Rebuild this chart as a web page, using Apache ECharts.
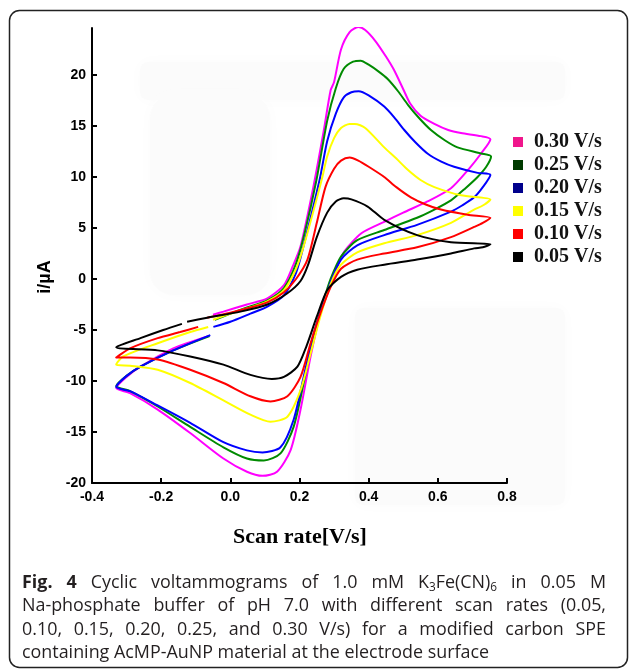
<!DOCTYPE html>
<html><head><meta charset="utf-8">
<script src="https://cdn.jsdelivr.net/npm/echarts@6/dist/echarts.min.js"></script>
<style>html,body{margin:0;padding:0;background:#fff}#c{width:630px;height:670px}</style>
</head><body><div id="c"></div>
<script>
// ---------- DATA ----------
const rates = ['0.30 V/s', '0.25 V/s', '0.20 V/s', '0.15 V/s', '0.10 V/s', '0.05 V/s'];
const xTicks = [-0.4, -0.2, 0.0, 0.2, 0.4, 0.6, 0.8];
const yTicks = [-20, -15, -10, -5, 0, 5, 10, 15, 20];

// [potential V, current µA] along the scan
const cv030 = [[-0.05,-3.5],[-0.02,-3.2],[0.048,-2.5],[0.107,-1.9],[0.155,-0.6],[0.18,1.2],[0.203,3.2],[0.24,9.0],[0.27,14.5],[0.29,18.5],[0.30,19.3],[0.32,22.5],[0.345,24.2],[0.37,24.7],[0.39,24.4],[0.42,23.3],[0.45,21.8],[0.473,20.5],[0.50,18.6],[0.52,17.2],[0.55,16.0],[0.59,15.2],[0.63,14.6],[0.667,14.3],[0.725,14.0],[0.752,13.7],
  [0.725,12.3],[0.69,10.8],[0.638,8.9],[0.57,7.6],[0.50,6.5],[0.445,5.6],[0.38,4.5],[0.33,2.7],[0.30,0.5],[0.275,-2.0],[0.26,-3.4],[0.232,-7.6],[0.203,-12.8],[0.174,-16.8],[0.135,-18.9],[0.093,-19.3],[0.048,-18.9],[-0.02,-17.6],[-0.116,-15.1],[-0.21,-12.8],[-0.29,-11.2],[-0.33,-10.7],
  [-0.30,-9.6],[-0.26,-8.6],[-0.165,-6.8],[-0.064,-5.6]];
const cv025 = [[-0.045,-4.0],[0.0,-3.4],[0.048,-2.8],[0.107,-2.1],[0.155,-0.9],[0.19,1.5],[0.215,4.5],[0.249,9.7],[0.28,15.5],[0.305,18.7],[0.328,20.6],[0.355,21.3],[0.377,21.4],[0.40,21.0],[0.43,20.3],[0.455,19.6],[0.485,18.4],[0.513,17.1],[0.545,15.8],[0.58,14.6],[0.62,13.6],[0.657,12.9],[0.725,12.3],[0.754,12.0],
  [0.74,11.0],[0.715,10.0],[0.68,8.9],[0.638,7.7],[0.59,6.8],[0.54,6.0],[0.445,4.8],[0.367,3.8],[0.32,2.2],[0.29,0.0],[0.27,-2.1],[0.24,-5.7],[0.212,-10.2],[0.183,-14.5],[0.145,-17.1],[0.097,-17.8],[0.048,-17.6],[-0.02,-16.5],[-0.116,-14.5],[-0.21,-12.5],[-0.29,-11.0],[-0.33,-10.5],
  [-0.30,-9.5],[-0.26,-8.6],[-0.165,-7.0],[-0.06,-5.6]];
const cv020 = [[-0.049,-4.7],[0.0,-4.2],[0.058,-3.4],[0.107,-2.7],[0.155,-1.6],[0.19,0.6],[0.21,3.0],[0.258,9.7],[0.28,13.5],[0.305,16.2],[0.328,17.8],[0.35,18.3],[0.371,18.4],[0.40,18.0],[0.445,16.9],[0.475,15.8],[0.503,14.6],[0.535,13.4],[0.57,12.3],[0.61,11.5],[0.647,11.0],[0.715,10.4],[0.752,10.2],
  [0.73,9.0],[0.705,8.0],[0.67,7.2],[0.638,6.6],[0.54,5.3],[0.445,4.3],[0.367,3.3],[0.32,1.9],[0.29,-0.3],[0.27,-2.3],[0.24,-5.5],[0.212,-9.6],[0.183,-13.8],[0.145,-16.5],[0.093,-17.0],[0.048,-16.8],[-0.02,-16.0],[-0.116,-14.1],[-0.21,-12.4],[-0.29,-11.0],[-0.33,-10.6],
  [-0.30,-9.5],[-0.26,-8.6],[-0.165,-7.0],[-0.058,-5.5]];
const cv015 = [[-0.05,-4.0],[0.0,-3.4],[0.058,-2.8],[0.107,-2.2],[0.155,-1.1],[0.19,1.0],[0.212,3.2],[0.264,9.7],[0.28,12.0],[0.30,13.8],[0.32,14.8],[0.345,15.2],[0.36,15.2],[0.39,14.8],[0.445,12.9],[0.48,11.8],[0.513,10.7],[0.55,9.7],[0.59,9.0],[0.667,8.2],[0.752,7.8],
  [0.73,7.2],[0.705,6.8],[0.638,5.5],[0.54,4.3],[0.445,3.5],[0.367,2.6],[0.32,1.4],[0.29,-0.5],[0.26,-3.7],[0.232,-7.3],[0.203,-10.9],[0.165,-13.5],[0.116,-14.0],[0.058,-13.3],[-0.02,-11.9],[-0.116,-10.2],[-0.21,-8.9],[-0.29,-8.5],[-0.33,-8.4],
  [-0.31,-7.6],[-0.21,-6.3],[-0.116,-5.2],[-0.064,-4.7]];
const cv010 = [[-0.067,-3.8],[0.0,-3.3],[0.058,-2.8],[0.107,-2.3],[0.155,-1.3],[0.19,0.0],[0.223,1.9],[0.25,5.5],[0.275,9.0],[0.30,10.8],[0.32,11.6],[0.345,11.9],[0.37,11.6],[0.40,11.0],[0.445,10.0],[0.48,9.0],[0.522,8.0],[0.565,7.3],[0.609,6.8],[0.686,6.3],[0.752,6.0],
  [0.73,5.5],[0.705,5.1],[0.638,4.1],[0.54,3.1],[0.445,2.5],[0.367,1.9],[0.32,1.0],[0.29,-0.8],[0.26,-3.4],[0.232,-6.3],[0.203,-9.6],[0.165,-11.5],[0.116,-12.0],[0.058,-11.5],[-0.02,-10.2],[-0.116,-8.9],[-0.21,-7.9],[-0.29,-7.7],[-0.33,-7.7],
  [-0.29,-6.8],[-0.21,-5.8],[-0.145,-5.2],[-0.093,-4.7]];
const cv005 = [[-0.125,-4.2],[-0.067,-3.8],[0.029,-3.2],[0.107,-2.5],[0.165,-1.4],[0.203,-0.2],[0.225,1.4],[0.25,4.1],[0.28,6.5],[0.305,7.6],[0.328,7.9],[0.35,7.8],[0.397,7.1],[0.445,5.8],[0.54,4.3],[0.638,3.6],[0.752,3.4],
  [0.73,3.1],[0.705,3.0],[0.638,2.5],[0.54,1.9],[0.445,1.4],[0.367,0.9],[0.32,0.2],[0.28,-1.1],[0.25,-3.7],[0.22,-6.6],[0.194,-8.6],[0.155,-9.6],[0.12,-9.8],[0.058,-9.4],[-0.02,-8.4],[-0.116,-7.6],[-0.21,-7.0],[-0.33,-6.7],
  [-0.26,-5.8],[-0.194,-5.0],[-0.14,-4.4]];
const curves = [cv030, cv025, cv020, cv015, cv010, cv005];

const captionLines = [
  '§Fig. §4 Cyclic voltammograms of 1.0 mM K_3Fe(CN)_6 in 0.05 M',
  'Na-phosphate buffer of pH 7.0 with different scan rates (0.05,',
  '0.10, 0.15, 0.20, 0.25, and 0.30 V/s) for a modified carbon SPE',
  'containing AcMP-AuNP material at the electrode surface'
];

// ---------- STYLE ----------
const lineColors = ['#FF00FF', '#008A00', '#0000FF', '#FFFF00', '#FF0000', '#000000'];
const iconColors = ['#F0168C', '#003A00', '#00008C', '#FFFF00', '#FF0000', '#000000'];

const chart = echarts.init(document.getElementById('c'), null, {renderer: 'canvas'});

// caption layout (justified)
const capFamily = '"Open Sans", "Noto Sans", sans-serif';
const capSize = 17.9;
const capL = 22, capR = 606;
const capY = [583, 606, 630, 653];
const mctx = document.createElement('canvas').getContext('2d');
function fontStr(bold, size) { return (bold ? 'bold ' : 'normal ') + size + 'px ' + capFamily; }
function measure(t, bold, size) { mctx.font = fontStr(bold, size); return mctx.measureText(t).width; }
function parseWord(w) {
  const bold = w[0] === '§'; if (bold) w = w.slice(1);
  const segs = []; let cur = '';
  for (let k = 0; k < w.length; k++) {
    if (w[k] === '_') { if (cur) segs.push({t: cur, sub: false}); segs.push({t: w[k + 1], sub: true}); cur = ''; k++; }
    else cur += w[k];
  }
  if (cur) segs.push({t: cur, sub: false});
  segs.forEach(s => { s.size = s.sub ? capSize * 0.66 : capSize; s.w = measure(s.t, bold, s.size); });
  return {bold, segs, w: segs.reduce((a, s) => a + s.w, 0)};
}
const capGraphics = [];
captionLines.forEach((line, li) => {
  const words = line.split(' ').map(parseWord);
  const total = words.reduce((a, w) => a + w.w, 0);
  const justify = li < captionLines.length - 1;
  const gap = justify ? (capR - capL - total) / (words.length - 1) : measure(' ', false, capSize);
  let x = capL;
  words.forEach(w => {
    w.segs.forEach(s => {
      capGraphics.push({type: 'text', x: x, y: capY[li] + (s.sub ? 5 : 0), silent: true,
        style: {text: s.t, font: fontStr(w.bold, s.size), fill: '#231F20', align: 'left', verticalAlign: 'middle'}});
      x += s.w;
    });
    x += gap;
  });
});

const fmtX = v => (Math.abs(v) < 1e-9 ? 0 : v).toFixed(1);

// very faint scan artefacts of the original figure
const patches = [
  {x: 140, y: 62, width: 425, height: 38, r: 8},
  {x: 150, y: 95, width: 120, height: 200, r: 24},
  {x: 355, y: 308, width: 210, height: 197, r: 8}
].map(s => ({type: 'rect', silent: true, z: -10, shape: s,
  style: {fill: '#FBFBFB', shadowBlur: 16, shadowColor: '#FBFBFB'}}));

chart.setOption({
  animation: false,
  backgroundColor: '#fff',
  grid: {left: 92, top: 28, width: 415, height: 455},
  legend: {
    orient: 'vertical', left: 508, top: 127, icon: 'rect', itemWidth: 10, itemHeight: 10, itemGap: 3,
    selectedMode: false,
    data: rates.map((r, k) => ({name: r, itemStyle: {color: iconColors[k], borderWidth: 0}})),
    textStyle: {fontFamily: '"Liberation Serif", "Times New Roman", serif', fontWeight: 'bold', fontSize: 20, color: '#111', padding: [0, 0, 0, 6]}
  },
  xAxis: {
    type: 'value', min: xTicks[0], max: xTicks[xTicks.length - 1], interval: 0.2,
    axisLine: {show: true, onZero: false, lineStyle: {color: '#000', width: 2}},
    axisTick: {show: true, inside: true, length: 5, lineStyle: {color: '#000', width: 2}},
    axisLabel: {formatter: fmtX, color: '#000', fontWeight: 'bold', fontSize: 14, fontFamily: '"Liberation Sans", Arial, sans-serif', margin: 7},
    splitLine: {show: false}
  },
  yAxis: {
    type: 'value', min: yTicks[0], max: 24.6, interval: 5,
    axisLine: {show: true, onZero: false, lineStyle: {color: '#000', width: 2}},
    axisTick: {show: true, inside: true, length: 5, customValues: yTicks, lineStyle: {color: '#000', width: 2}},
    axisLabel: {customValues: yTicks, color: '#000', fontWeight: 'bold', fontSize: 14, fontFamily: '"Liberation Sans", Arial, sans-serif', margin: 6},
    splitLine: {show: false}
  },
  series: curves.map((d, k) => ({
    name: rates[k], type: 'line', data: d, showSymbol: false, smooth: 0.25,
    lineStyle: {color: lineColors[k], width: 2}, itemStyle: {color: iconColors[k]},
    z: 2 + k
  })),
  graphic: patches.concat([
    {type: 'rect', silent: true, shape: {x: 9.5, y: 10.5, width: 618, height: 657, r: 10}, style: {fill: 'none', stroke: '#222', lineWidth: 1.5}},
    {type: 'text', silent: true, x: 45, y: 277, rotation: Math.PI / 2,
      style: {text: 'i/µA', font: 'bold 18px "Liberation Sans", Arial, sans-serif', fill: '#000', align: 'center', verticalAlign: 'middle'}},
    {type: 'text', silent: true, x: 300, y: 537,
      style: {text: 'Scan rate[V/s]', font: 'bold 22px "Liberation Serif", "Times New Roman", serif', fill: '#000', align: 'center', verticalAlign: 'middle'}}
  ]).concat(capGraphics)
});
</script></body></html>
